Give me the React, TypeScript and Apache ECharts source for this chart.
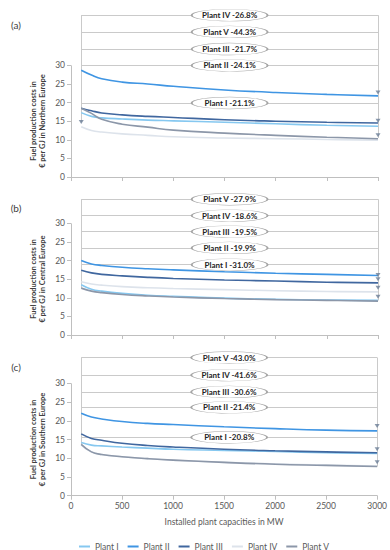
import React, { useEffect, useRef } from "react";
import * as echarts from "echarts";

const XS = [100, 200, 300, 500, 750, 1000, 1500, 2000, 2500, 3000];
const PLANTS = ["Plant I", "Plant II", "Plant III", "Plant IV", "Plant V"];
const COLORS = ["#86c8f0", "#3f95e3", "#40679f", "#dde3eb", "#8c97a9"];

// (a) Northern Europe
const NORTH_I = [17.3, 16.3, 15.9, 15.6, 15.3, 15.1, 14.7, 14.3, 13.9, 13.65];
const NORTH_II = [28.7, 27.4, 26.4, 25.5, 25.0, 24.4, 23.4, 22.7, 22.2, 21.8];
const NORTH_III = [18.5, 17.8, 17.2, 16.7, 16.3, 16.0, 15.4, 15.0, 14.7, 14.5];
const NORTH_IV = [13.5, 12.5, 12.1, 11.6, 11.2, 10.8, 10.5, 10.3, 10.1, 9.9];
const NORTH_V = [18.5, 17.1, 15.5, 14.2, 13.4, 12.6, 11.8, 11.2, 10.7, 10.3];

// (b) Central Europe
const CENTRAL_I = [13.5, 12.3, 11.8, 11.2, 10.7, 10.4, 9.9, 9.6, 9.4, 9.3];
const CENTRAL_II = [20.0, 19.1, 18.7, 18.2, 17.8, 17.5, 17.0, 16.6, 16.3, 16.0];
const CENTRAL_III = [17.4, 16.7, 16.3, 15.9, 15.5, 15.2, 14.8, 14.5, 14.2, 14.0];
const CENTRAL_IV = [14.3, 13.7, 13.4, 13.0, 12.7, 12.5, 12.2, 11.9, 11.7, 11.6];
const CENTRAL_V = [12.6, 11.8, 11.4, 10.9, 10.5, 10.2, 9.8, 9.5, 9.3, 9.1];

// (c) Southern Europe
const SOUTH_I = [14.2, 13.5, 13.3, 13.0, 12.7, 12.4, 12.1, 11.8, 11.5, 11.25];
const SOUTH_II = [22.0, 21.0, 20.5, 19.8, 19.3, 19.0, 18.4, 17.9, 17.5, 17.3];
const SOUTH_III = [16.5, 15.3, 14.8, 14.0, 13.4, 13.0, 12.4, 12.0, 11.7, 11.45];
const SOUTH_IV = [13.5, 11.7, 11.0, 10.4, 9.9, 9.5, 8.9, 8.5, 8.2, 7.9];
const SOUTH_V = [13.7, 11.7, 11.0, 10.4, 9.9, 9.5, 8.9, 8.4, 8.1, 7.8];

// Reduction labels: [text, level]
const LABELS_A: [string, number][] = [
  ["Plant IV -26.8%", 43.5],
  ["Plant V -44.3%", 39.0],
  ["Plant III -21.7%", 34.4],
  ["Plant II -24.1%", 30.0],
  ["Plant I -21.1%", 19.9],
];
const LABELS_B: [string, number][] = [
  ["Plant V -27.9%", 36.5],
  ["Plant IV -18.6%", 32.1],
  ["Plant III -19.5%", 27.8],
  ["Plant II -19.9%", 23.4],
  ["Plant I -31.0%", 18.9],
];
const LABELS_C: [string, number][] = [
  ["Plant V -43.0%", 36.9],
  ["Plant IV -41.6%", 32.2],
  ["Plant III -30.6%", 27.7],
  ["Plant II -21.4%", 23.6],
  ["Plant I -20.8%", 15.6],
];

// vertical bracket lines: [x, top, bottom]
const BRACKETS_A: [number, number, number][] = [[100, 43.5, 14.8], [3000, 43.5, 10.5]];
const BRACKETS_B: [number, number, number][] = [[100, 36.5, 12.6], [3000, 36.5, 9.3]];
const BRACKETS_C: [number, number, number][] = [[100, 36.9, 13.5], [3000, 36.9, 7.8]];

const ARROWS_A = [[100, 14.8], [3000, 22.7], [3000, 15.1], [3000, 11.2]];
const ARROWS_B = [[3000, 16.1], [3000, 15.0], [3000, 12.7], [3000, 10.3]];
const ARROWS_C = [[3000, 18.6], [3000, 12.4], [3000, 8.9]];

const Y_TICKS = [0, 5, 10, 15, 20, 25, 30];

const FONT = "Lato, 'Open Sans', sans-serif";
const ELLIPSE = "path://M0,1A1,1 0 1,1 2,1A1,1 0 1,1 0,1Z";

const PANELS = [
  {
    data: [NORTH_I, NORTH_II, NORTH_III, NORTH_IV, NORTH_V],
    labels: LABELS_A, brackets: BRACKETS_A, arrows: ARROWS_A,
    grid: { left: 71, right: 12, top: 9.6, height: 167.4 }, max: 45,
    tag: "(a)", tagY: 25, region: "Northern Europe", titleY: 121,
  },
  {
    data: [CENTRAL_I, CENTRAL_II, CENTRAL_III, CENTRAL_IV, CENTRAL_V],
    labels: LABELS_B, brackets: BRACKETS_B, arrows: ARROWS_B,
    grid: { left: 71, right: 12, top: 186.2, height: 148.8 }, max: 40,
    tag: "(b)", tagY: 208, region: "Central Europe", titleY: 279,
  },
  {
    data: [SOUTH_I, SOUTH_II, SOUTH_III, SOUTH_IV, SOUTH_V],
    labels: LABELS_C, brackets: BRACKETS_C, arrows: ARROWS_C,
    grid: { left: 71, right: 12, top: 345.9, height: 149.8 }, max: 40,
    tag: "(c)", tagY: 367, region: "Southern Europe", titleY: 439.5,
  },
];

export default function App() {
  const ref = useRef<HTMLDivElement>(null);
  useEffect(() => {
    if (!ref.current) return;
    const chart = echarts.init(ref.current, undefined, { renderer: "svg" });
    const grids: any[] = [];
    const xAxes: any[] = [];
    const yAxes: any[] = [];
    const series: any[] = [];
    const graphics: any[] = [];

    PANELS.forEach((p, pi) => {
      grids.push({ ...p.grid, containLabel: false });
      const last = pi === PANELS.length - 1;
      xAxes.push({
        gridIndex: pi,
        type: "value",
        min: 0,
        max: 3000,
        interval: 500,
        axisLine: { show: true, lineStyle: { color: "#bfbfbf", width: 1 } },
        axisTick: { show: true, length: 4, lineStyle: { color: "#bfbfbf" } },
        axisLabel: {
          show: last,
          color: "#595959",
          fontSize: 8.5,
          fontFamily: FONT,
          margin: 6,
          formatter: (v: number) => String(v),
        },
        splitLine: { show: false },
        name: last ? "Installed plant capacities in MW" : "",
        nameLocation: "middle",
        nameGap: 22,
        nameTextStyle: { color: "#595959", fontSize: 8.5, fontFamily: FONT },
      });
      yAxes.push({
        gridIndex: pi,
        type: "value",
        min: 0,
        max: p.max,
        interval: 5,
        axisLine: { show: false },
        axisTick: {
          show: true,
          length: 4,
          customValues: Y_TICKS,
          lineStyle: { color: "#bfbfbf" },
        },
        axisLabel: {
          show: true,
          customValues: Y_TICKS,
          formatter: (v: number) => (v <= 30 ? String(v) : ""),
          color: "#595959",
          fontSize: 8.5,
          fontFamily: FONT,
          margin: 6,
        },
        splitLine: { show: false },
      });

      p.data.forEach((vals, k) => {
        series.push({
          type: "line",
          name: PLANTS[k],
          xAxisIndex: pi,
          yAxisIndex: pi,
          data: XS.map((x, i) => [x, vals[i]]),
          smooth: 0.45,
          symbol: "none",
          lineStyle: { color: COLORS[k], width: 1.6 },
          itemStyle: { color: COLORS[k] },
          z: 3,
        });
      });

      const lines: any[] = [];
      p.labels.forEach(([, lv]) => {
        lines.push([{ coord: [100, lv] }, { coord: [3000, lv] }]);
      });
      p.brackets.forEach(([x, t, b]) => {
        lines.push([{ coord: [x, t] }, { coord: [x, b] }]);
      });
      lines.push([
        { coord: [0, 0], lineStyle: { color: "#bfbfbf" } },
        { coord: [0, 30] },
      ]);

      series.push({
        type: "scatter",
        name: "arrows" + pi,
        xAxisIndex: pi,
        yAxisIndex: pi,
        data: p.arrows,
        symbol: "triangle",
        symbolRotate: 180,
        symbolSize: [5, 4],
        itemStyle: { color: "#6a7d96" },
        silent: true,
        z: 4,
        markLine: {
          silent: true,
          symbol: ["none", "none"],
          label: { show: false },
          lineStyle: { color: "#cacaca", width: 1, type: "solid" },
          data: lines,
          z: 1,
        },
        markPoint: {
          silent: true,
          symbol: ELLIPSE,
          symbolSize: [76, 12],
          itemStyle: { color: "#ffffff", borderColor: "#a5a5a5", borderWidth: 0.8 },
          label: {
            show: true,
            position: "inside",
            color: "#1f1f1f",
            fontWeight: "bold",
            fontSize: 8,
            fontFamily: FONT,
          },
          data: p.labels.map(([t, lv]) => ({
            coord: [1550, lv],
            value: t,
            label: { formatter: t },
          })),
          z: 5,
        },
      });

      graphics.push({
        type: "text",
        x: 16,
        y: p.tagY,
        style: {
          text: p.tag,
          fill: "#404040",
          font: `10px ${FONT}`,
          align: "center",
          verticalAlign: "middle",
        },
      });
      graphics.push({
        type: "text",
        x: 37.5,
        y: p.titleY,
        rotation: Math.PI / 2,
        style: {
          text: "Fuel production costs in\n€ per GJ in " + p.region,
          fill: "#404040",
          font: `bold 7.5px ${FONT}`,
          lineHeight: 9,
          align: "center",
          verticalAlign: "middle",
        },
      });
    });

    chart.setOption({
      animation: false,
      backgroundColor: "#ffffff",
      grid: grids,
      xAxis: xAxes,
      yAxis: yAxes,
      series,
      graphic: graphics,
      legend: {
        data: PLANTS,
        left: 74,
        top: 537,
        icon: "rect",
        itemWidth: 11,
        itemHeight: 2,
        itemGap: 9,
        textStyle: { color: "#595959", fontSize: 8.5, fontFamily: FONT },
        selectedMode: false,
      },
    });
    return () => chart.dispose();
  }, []);
  return (
    <div
      ref={ref}
      style={{ position: "absolute", left: 0, top: 0, width: 390, height: 550 }}
    />
  );
}
